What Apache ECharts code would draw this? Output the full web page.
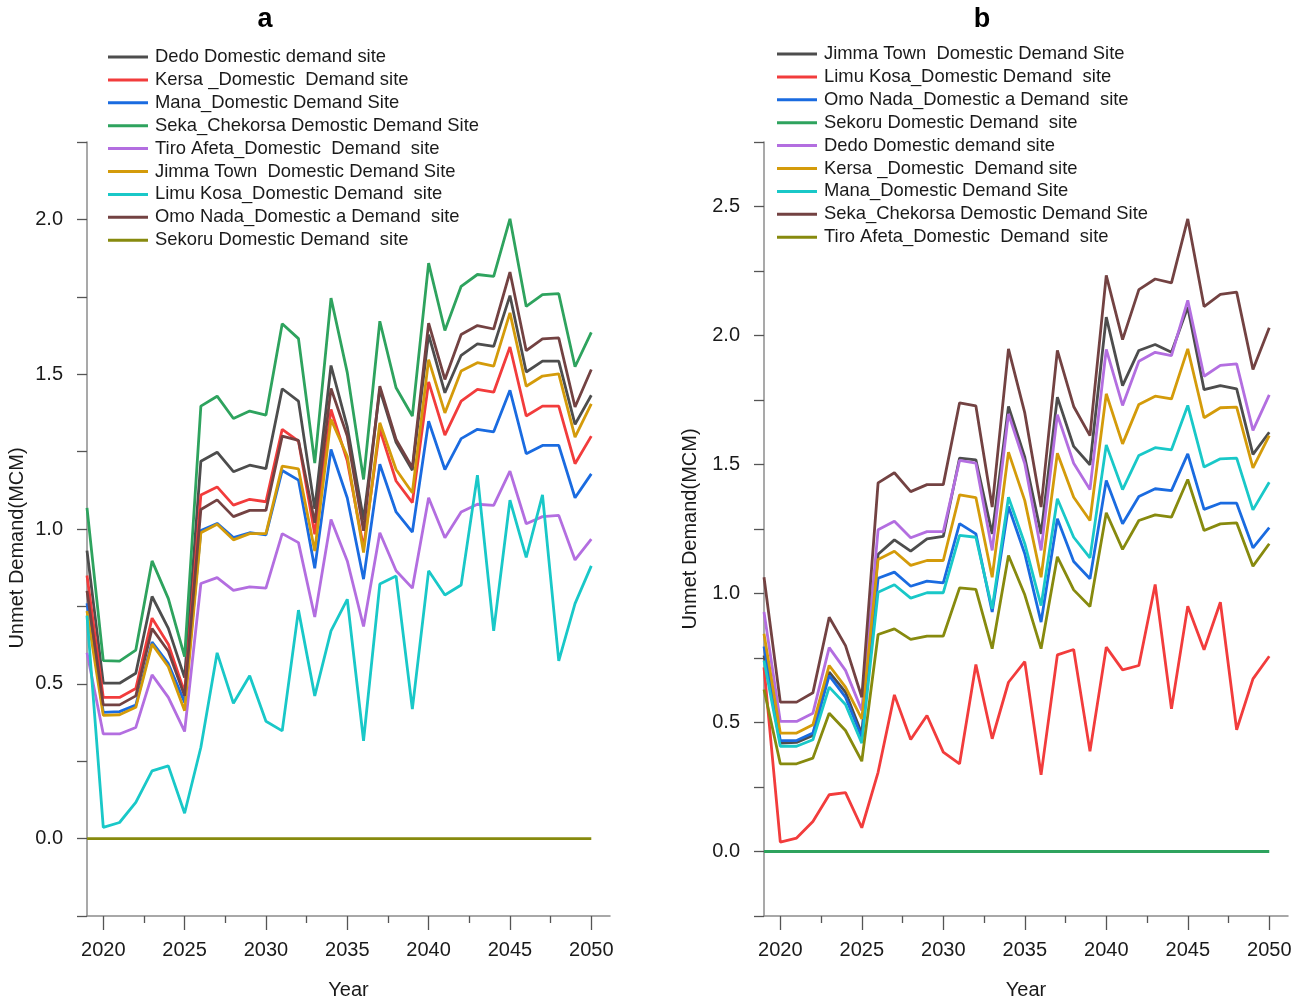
<!DOCTYPE html>
<html>
<head>
<meta charset="utf-8">
<script src="https://cdn.jsdelivr.net/npm/echarts@6/dist/echarts.min.js"></script>
<style>
html,body{margin:0;padding:0;background:#fff;}
#chart{width:1306px;height:1000px;}
</style>
</head>
<body>
<div id="chart"></div>
<script>
// ---------- DATA ----------
const years = [];
for (let y = 2019; y <= 2050; y++) years.push(y);

const xTickLabels = [2020, 2025, 2030, 2035, 2040, 2045, 2050];
const xMinorTicks = [2022.5, 2027.5, 2032.5, 2037.5, 2042.5, 2047.5];

// Chart a
const aNames = [
  'Dedo Domestic demand site',
  'Kersa _Domestic  Demand site',
  'Mana_Domestic Demand Site',
  'Seka_Chekorsa Demostic Demand Site',
  'Tiro Afeta_Domestic  Demand  site',
  'Jimma Town  Domestic Demand Site',
  'Limu Kosa_Domestic Demand  site',
  'Omo Nada_Domestic a Demand  site',
  'Sekoru Domestic Demand  site'
];
const aColors = ['#4d4d4d', '#f23c3c', '#1a6be0', '#2ea35e', '#b36ee0', '#d49b0a', '#19c8c8', '#734242', '#878a0e'];

const aDedo  = [0.93,0.502,0.502,0.534,0.782,0.679,0.52,1.219,1.248,1.185,1.206,1.195,1.453,1.413,1.065,1.528,1.33,1.03,1.45,1.28,1.19,1.628,1.44,1.561,1.598,1.59,1.754,1.507,1.542,1.542,1.338,1.432];
const aKersa = [0.85,0.456,0.456,0.485,0.712,0.628,0.472,1.11,1.136,1.077,1.096,1.088,1.322,1.284,0.983,1.386,1.22,0.94,1.322,1.155,1.085,1.475,1.303,1.413,1.451,1.442,1.588,1.365,1.397,1.397,1.211,1.30];
const aMana  = [0.76,0.408,0.41,0.431,0.635,0.565,0.44,0.995,1.018,0.972,0.988,0.981,1.189,1.158,0.873,1.257,1.10,0.838,1.209,1.055,0.99,1.348,1.192,1.292,1.322,1.314,1.448,1.243,1.27,1.27,1.101,1.178];
const aSeka  = [1.068,0.575,0.573,0.609,0.897,0.775,0.588,1.397,1.429,1.357,1.381,1.368,1.663,1.615,1.213,1.746,1.505,1.16,1.671,1.456,1.365,1.859,1.641,1.784,1.822,1.816,2.002,1.719,1.757,1.76,1.524,1.635];
const aTiro  = [0.60,0.338,0.338,0.359,0.529,0.456,0.346,0.824,0.843,0.802,0.813,0.809,0.985,0.956,0.716,1.031,0.897,0.685,0.988,0.865,0.809,1.101,0.972,1.055,1.08,1.076,1.187,1.017,1.04,1.044,0.90,0.967];
const aJimma = [0.735,0.398,0.40,0.424,0.628,0.555,0.413,0.988,1.015,0.965,0.985,0.985,1.203,1.194,0.929,1.354,1.235,0.924,1.343,1.192,1.117,1.547,1.375,1.51,1.537,1.526,1.698,1.461,1.494,1.501,1.297,1.404];
const aLimu  = [0.72,0.036,0.052,0.117,0.219,0.235,0.082,0.295,0.60,0.437,0.526,0.379,0.348,0.738,0.461,0.671,0.773,0.316,0.822,0.848,0.418,0.865,0.787,0.819,1.174,0.671,1.093,0.908,1.11,0.574,0.759,0.881];
const aOmo   = [0.80,0.432,0.432,0.461,0.678,0.605,0.461,1.063,1.094,1.04,1.06,1.06,1.30,1.286,1.02,1.454,1.30,0.994,1.461,1.289,1.198,1.665,1.483,1.628,1.657,1.646,1.83,1.576,1.614,1.617,1.394,1.515];
const aSekoru = [0,0,0,0,0,0,0,0,0,0,0,0,0,0,0,0,0,0,0,0,0,0,0,0,0,0,0,0,0,0,0,0];
const aValues = [aDedo, aKersa, aMana, aSeka, aTiro, aJimma, aLimu, aOmo, aSekoru];

// Chart b
const bNames = [
  'Jimma Town  Domestic Demand Site',
  'Limu Kosa_Domestic Demand  site',
  'Omo Nada_Domestic a Demand  site',
  'Sekoru Domestic Demand  site',
  'Dedo Domestic demand site',
  'Kersa _Domestic  Demand site',
  'Mana_Domestic Demand Site',
  'Seka_Chekorsa Demostic Demand Site',
  'Tiro Afeta_Domestic  Demand  site'
];
const bColors = ['#4d4d4d', '#f23c3c', '#1a6be0', '#2ea35e', '#b36ee0', '#d49b0a', '#19c8c8', '#734242', '#878a0e'];

const bJimma = [0.76,0.42,0.423,0.45,0.695,0.618,0.456,1.152,1.208,1.164,1.212,1.221,1.525,1.518,1.231,1.725,1.528,1.231,1.761,1.57,1.499,2.071,1.806,1.942,1.965,1.935,2.11,1.79,1.806,1.793,1.539,1.625];
const bLimu  = [0.714,0.036,0.052,0.116,0.22,0.228,0.092,0.307,0.607,0.434,0.527,0.385,0.34,0.725,0.437,0.656,0.736,0.297,0.762,0.783,0.388,0.792,0.704,0.721,1.035,0.553,0.951,0.782,0.966,0.472,0.669,0.757];
const bOmo   = [0.795,0.43,0.43,0.459,0.682,0.598,0.443,1.059,1.083,1.028,1.048,1.041,1.271,1.231,0.928,1.337,1.154,0.889,1.29,1.124,1.057,1.438,1.27,1.376,1.406,1.399,1.541,1.326,1.35,1.35,1.177,1.255];
const bSekoru = [0,0,0,0,0,0,0,0,0,0,0,0,0,0,0,0,0,0,0,0,0,0,0,0,0,0,0,0,0,0,0,0];
const bDedo  = [0.928,0.504,0.504,0.536,0.79,0.702,0.547,1.247,1.28,1.216,1.24,1.24,1.516,1.505,1.167,1.696,1.503,1.167,1.693,1.505,1.403,1.946,1.729,1.9,1.935,1.922,2.136,1.842,1.884,1.89,1.632,1.77];
const bKersa = [0.844,0.459,0.459,0.491,0.721,0.637,0.514,1.132,1.164,1.109,1.128,1.128,1.382,1.372,1.063,1.548,1.36,1.063,1.544,1.373,1.283,1.774,1.58,1.733,1.765,1.754,1.948,1.681,1.72,1.722,1.487,1.612];
const bMana  = [0.74,0.408,0.408,0.433,0.637,0.57,0.42,1.005,1.034,0.982,1.003,1.003,1.225,1.218,0.941,1.373,1.193,0.953,1.367,1.218,1.138,1.576,1.403,1.535,1.565,1.557,1.729,1.49,1.522,1.525,1.324,1.431];
const bSeka  = [1.063,0.579,0.579,0.615,0.908,0.798,0.598,1.429,1.468,1.395,1.422,1.422,1.739,1.727,1.335,1.948,1.70,1.335,1.942,1.725,1.612,2.233,1.984,2.178,2.219,2.204,2.452,2.112,2.159,2.168,1.868,2.03];
const bTiro  = [0.628,0.34,0.34,0.362,0.536,0.469,0.35,0.841,0.863,0.822,0.835,0.835,1.022,1.016,0.786,1.147,0.995,0.786,1.142,1.014,0.95,1.313,1.171,1.283,1.305,1.296,1.442,1.244,1.27,1.274,1.106,1.193];
const bValues = [bJimma, bLimu, bOmo, bSekoru, bDedo, bKersa, bMana, bSeka, bTiro];

// ---------- CHART ----------
const FONT = 'Liberation Sans, Arial, sans-serif';
const chart = echarts.init(document.getElementById('chart'));

const X_MIN = 2019, X_MAX = 2051.15;

function mainX(gridIndex) {
  return {
    type: 'value', gridIndex, position: 'bottom', min: X_MIN, max: X_MAX,
    name: 'Year', nameLocation: 'middle', nameGap: 64,
    nameTextStyle: { fontFamily: FONT, fontSize: 20, color: '#1a1a1a' },
    axisLine: { show: true, onZero: false, lineStyle: { color: '#8c8c8c', width: 1.5 } },
    axisTick: { show: true, customValues: xTickLabels, length: 14, lineStyle: { color: '#555', width: 1.3 } },
    axisLabel: { show: true, customValues: xTickLabels, margin: 24, fontFamily: FONT, fontSize: 20, color: '#1a1a1a', formatter: v => String(v) },
    splitLine: { show: false }
  };
}
function minorX(gridIndex) {
  return {
    type: 'value', gridIndex, position: 'bottom', min: X_MIN, max: X_MAX,
    axisLine: { show: false, onZero: false },
    axisTick: { show: true, customValues: xMinorTicks, length: 7, lineStyle: { color: '#555', width: 1.3 } },
    axisLabel: { show: false },
    splitLine: { show: false }
  };
}
function yAx(gridIndex, max, padRight, gap) {
  return {
    type: 'value', gridIndex, min: -0.25, max: max, interval: 0.25,
    name: 'Unmet Demand(MCM)', nameLocation: 'middle', nameGap: gap,
    nameTextStyle: { fontFamily: FONT, fontSize: 20, color: '#1a1a1a', padding: [0, padRight, 0, 0] },
    axisLine: { show: true, onZero: false, lineStyle: { color: '#8c8c8c', width: 1.5 } },
    axisTick: { show: true, length: 10, lineStyle: { color: '#555', width: 1.3 } },
    axisLabel: {
      margin: 24, fontFamily: FONT, fontSize: 20, color: '#1a1a1a',
      formatter: v => { const r = Math.round(v * 100); return (r >= 0 && r % 50 === 0) ? v.toFixed(1) : ''; }
    },
    splitLine: { show: false }
  };
}

const series = [];
aNames.forEach((n, i) => {
  series.push({
    name: n, type: 'line', xAxisIndex: 0, yAxisIndex: 0, symbol: 'none',
    color: aColors[i], lineStyle: { width: 2.8, color: aColors[i] },
    data: years.map((y, k) => [y, aValues[i][k]])
  });
});
const bKey = n => n + '\u200b';
bNames.forEach((n, i) => {
  series.push({
    name: bKey(n), type: 'line', xAxisIndex: 2, yAxisIndex: 1, symbol: 'none',
    color: bColors[i], lineStyle: { width: 2.8, color: bColors[i] },
    data: years.map((y, k) => [y, bValues[i][k]])
  });
});

function legendCfg(left, top, names) {
  return {
    orient: 'vertical', left, top, padding: 0,
    icon: 'rect', itemWidth: 40, itemHeight: 3, itemGap: 4.9,
    textStyle: { fontFamily: FONT, fontSize: 18.4, color: '#1a1a1a', lineHeight: 18, padding: [0, 0, 0, 2] },
    data: names, selectedMode: false
  };
}

chart.setOption({
  animation: false,
  backgroundColor: '#fff',
  grid: [
    { left: 87, top: 142, width: 523, height: 774, outerBoundsMode: 'none', containLabel: false },
    { left: 764, top: 142, width: 524, height: 774, outerBoundsMode: 'none', containLabel: false }
  ],
  xAxis: [mainX(0), minorX(0), mainX(1), minorX(1)],
  yAxis: [yAx(0, 2.25, 38, 60), yAx(1, 2.75, 0, 64)],
  legend: [
    legendCfg(108, 48, aNames),
    legendCfg(777, 45, bNames.map(bKey))
  ],
  graphic: [
    { type: 'text', x: 265, y: 20, style: { text: 'a', fontFamily: FONT, fontSize: 27, fontWeight: 'bold', fill: '#000', align: 'center', verticalAlign: 'middle' } },
    { type: 'text', x: 982, y: 20, style: { text: 'b', fontFamily: FONT, fontSize: 27, fontWeight: 'bold', fill: '#000', align: 'center', verticalAlign: 'middle' } }
  ],
  series
});
</script>
</body>
</html>
